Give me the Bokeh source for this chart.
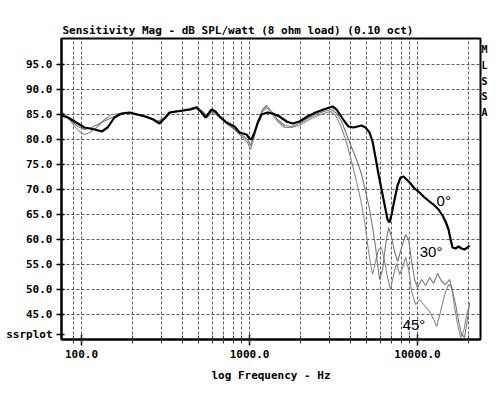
from bokeh.plotting import figure
from bokeh.models import FixedTicker, Label, PrintfTickFormatter, LinearAxis, Range1d
from bokeh.embed import file_html
from bokeh.resources import INLINE

# ---- data ----
freq_0 = [76, 83, 91, 104, 120, 132, 143, 157, 173, 193, 215, 240, 268, 291, 312, 334, 368, 405, 446, 484,
          518, 547, 594, 627, 663, 730, 814, 872, 960, 1000, 1028, 1071, 1116, 1179, 1279, 1371, 1509, 1661,
          1803, 1984, 2214, 2472, 2757, 2994, 3119, 3296, 3482, 3678, 3885, 4160, 4395, 4642, 4903, 5179,
          5397, 5623, 5861, 6106, 6363, 6629, 6813, 7002, 7297, 7603, 7922, 8254, 8601, 9086, 9597, 10278,
          11007, 11788, 12625, 13335, 14085, 14678, 15296, 15723, 16156, 16838, 17539, 18278, 19047, 19848,
          20396]
db_0 = [84.8, 84.4, 83.6, 82.4, 82.0, 81.6, 82.4, 84.4, 85.2, 85.4, 85.0, 84.6, 84.0, 83.2, 84.2, 85.4,
        85.6, 85.8, 86.0, 86.4, 85.4, 84.4, 86.0, 85.6, 84.6, 83.4, 82.6, 81.4, 81.0, 80.2, 80.0, 81.4,
        83.2, 85.0, 85.4, 85.2, 84.6, 83.6, 83.2, 83.6, 84.6, 85.4, 86.0, 86.4, 86.6, 86.0, 84.8, 83.6,
        82.6, 82.4, 82.6, 82.8, 82.4, 81.4, 79.6, 76.4, 73.0, 70.0, 67.0, 64.0, 63.4, 65.0, 68.0, 70.8,
        72.4, 72.6, 72.0, 71.2, 70.2, 69.4, 68.4, 67.6, 66.8, 66.0, 64.8, 63.6, 62.0, 60.0, 58.4, 58.2,
        58.6, 58.2, 58.0, 58.4, 58.8]

freq_30 = [76, 85, 95, 104, 115, 128, 143, 157, 173, 193, 221, 254, 283, 312, 343, 383, 439, 484, 525, 562,
           602, 663, 740, 825, 908, 973, 1014, 1056, 1116, 1195, 1263, 1353, 1468, 1616, 1779, 1985, 2214,
           2472, 2759, 3079, 3298, 3532, 3782, 4051, 4338, 4646, 4908, 5184, 5402, 5629, 5785, 5946, 6196,
           6456, 6727, 7010, 7304, 7611, 8039, 8493, 8850, 9220, 9608, 10000, 10575, 11172, 11801, 12467,
           13170, 13911, 14696, 15524, 16176, 16856, 17564, 18300, 19069, 19870, 20421]
db_30 = [85.2, 84.0, 82.6, 82.0, 82.4, 83.2, 84.0, 84.6, 85.2, 85.4, 85.0, 84.4, 83.6, 84.4, 85.6, 85.8,
         86.2, 86.6, 85.6, 84.6, 85.8, 84.8, 83.2, 82.0, 80.8, 80.0, 78.8, 80.6, 83.6, 86.0, 86.8, 85.6,
         84.0, 82.8, 82.6, 83.2, 84.2, 85.0, 85.6, 86.0, 85.2, 83.6, 81.0, 78.4, 76.0, 73.0, 69.6, 66.0,
         62.4, 58.4, 55.0, 52.0, 54.0, 59.0, 62.4, 60.4, 57.6, 55.6, 58.4, 61.0, 60.0, 55.6, 52.0, 50.4,
         52.0, 50.8, 52.4, 51.2, 53.2, 51.6, 51.0, 52.0, 49.6, 47.0, 43.6, 41.0, 40.4, 44.4, 47.4]

freq_45 = [76, 83, 90, 97, 104, 112, 123, 137, 151, 168, 193, 221, 254, 283, 312, 343, 383, 439, 484, 525,
           562, 602, 663, 740, 825, 908, 973, 1014, 1056, 1116, 1195, 1263, 1353, 1468, 1616, 1779, 1985,
           2214, 2472, 2759, 3037, 3253, 3482, 3731, 3995, 4279, 4582, 4841, 5044, 5256, 5402, 5629, 5861,
           6106, 6363, 6629, 6914, 7205, 7507, 7822, 8150, 8493, 8850, 9220, 9741, 10289, 11007, 11801,
           12467, 12990, 13722, 14496, 15313, 15956, 16626, 17325, 18051, 18809, 19600, 20421]
db_45 = [85.6, 84.4, 82.8, 81.6, 81.0, 81.4, 82.4, 84.0, 85.0, 85.2, 85.2, 84.8, 84.2, 83.4, 84.2, 85.4,
         85.6, 86.0, 86.2, 85.2, 84.4, 85.6, 84.4, 83.0, 81.8, 80.4, 79.4, 78.0, 80.0, 83.2, 85.6, 86.4,
         85.2, 83.6, 82.4, 82.4, 82.8, 83.8, 84.6, 85.2, 85.6, 84.8, 82.8, 80.0, 76.4, 72.4, 68.0, 63.6,
         59.0, 55.0, 53.0, 55.6, 58.0, 58.4, 55.6, 52.4, 50.0, 53.0, 55.2, 53.0, 54.4, 56.4, 54.0, 49.6,
         47.0, 48.0, 46.8, 45.6, 44.0, 42.6, 45.6, 49.0, 51.0, 50.4, 46.4, 43.0, 40.4, 41.6, 45.0, 47.0]

y_ticks = [45, 50, 55, 60, 65, 70, 75, 80, 85, 90, 95]
x_major = [100, 1000, 10000]
x_grid = [90, 100, 200, 300, 400, 500, 600, 700, 800, 900, 1000, 2000, 3000, 4000, 5000, 6000,
          7000, 8000, 9000, 10000, 20000]
title_text = "Sensitivity Mag - dB SPL/watt (8 ohm load) (0.10 oct)"
x_label = "log Frequency - Hz"
corner_text = "ssrplot"
side_letters = ["M", "L", "S", "S", "A"]

MONO = "DejaVu Sans Mono"

p = figure(width=497, height=390, x_axis_type="log", x_range=(76, 23700), y_range=(40, 100.2),
           output_backend="svg", toolbar_location=None,
           min_border_left=61, min_border_right=17, min_border_top=38, min_border_bottom=51)
p.background_fill_color = "white"
p.border_fill_color = "white"
p.outline_line_color = "black"
p.outline_line_width = 2

p.title.text = title_text
p.title.text_font = MONO
p.title.text_font_style = "bold"
p.title.text_font_size = "11px"
p.title.text_color = "black"
p.title.align = "left"
p.title.standoff = 3
p.title.offset = 1

# grids
p.xgrid.ticker = FixedTicker(ticks=x_grid)
p.ygrid.ticker = FixedTicker(ticks=y_ticks)
for g in (p.xgrid, p.ygrid):
    g.grid_line_color = "#333333"
    g.grid_line_dash = "3 2"
    g.grid_line_width = 1
    g.grid_line_alpha = 0.8

# axes
xa = p.xaxis[0]
xa.ticker = FixedTicker(ticks=x_major, minor_ticks=x_grid)
xa.formatter = PrintfTickFormatter(format="%.1f")
xa.axis_label = x_label
ya = p.yaxis[0]
ya.ticker = FixedTicker(ticks=[41] + y_ticks)
ya.formatter = PrintfTickFormatter(format="%.1f")
ya.major_label_overrides = {41: corner_text}
for a in (xa, ya):
    a.axis_line_color = "black"
    a.axis_line_width = 2
    a.major_tick_line_color = "black"
    a.major_tick_line_width = 1.5
    a.minor_tick_line_color = "#333"
    a.major_label_text_font = MONO
    a.major_label_text_font_style = "bold"
    a.major_label_text_font_size = "11px"
    a.major_label_text_color = "black"
    a.axis_label_text_font = MONO
    a.axis_label_text_font_style = "bold"
    a.axis_label_text_font_size = "11px"
    a.axis_label_text_color = "black"
xa.major_tick_in = 5
xa.major_tick_out = 6
xa.minor_tick_in = 4
xa.minor_tick_out = 4
xa.major_label_standoff = 4
xa.axis_label_standoff = 8
ya.major_tick_in = 3
ya.major_tick_out = 5
ya.minor_tick_line_color = None
ya.major_label_standoff = 4

# right-hand stacked letters as an axis of its own
p.extra_y_ranges = {"letters": Range1d(start=19.41, end=0.302)}
ra = LinearAxis(y_range_name="letters", ticker=FixedTicker(ticks=[1, 2, 3, 4, 5]),
                major_label_overrides={i + 1: ch for i, ch in enumerate(side_letters)})
ra.axis_line_color = None
ra.major_tick_line_color = None
ra.minor_tick_line_color = None
ra.major_tick_in = 0
ra.major_tick_out = 0
ra.major_label_standoff = 1
ra.major_label_text_font = MONO
ra.major_label_text_font_style = "bold"
ra.major_label_text_font_size = "10px"
ra.major_label_text_color = "black"
p.add_layout(ra, "right")

# curves
p.line(freq_45, db_45, line_color="#8c8c8c", line_width=1.1)
p.line(freq_30, db_30, line_color="#777777", line_width=1.1)
p.line(freq_0, db_0, line_color="black", line_width=2.2)

# curve labels
for txt, fx, dy in (("0°", 12975, 67.8), ("30°", 10300, 57.7), ("45°", 8150, 43.1)):
    p.add_layout(Label(x=fx, y=dy, text=txt, text_font="Liberation Sans", text_font_size="15px",
                       text_color="black", text_align="left", text_baseline="middle"))

open("out.html", "w").write(file_html(p, INLINE))
